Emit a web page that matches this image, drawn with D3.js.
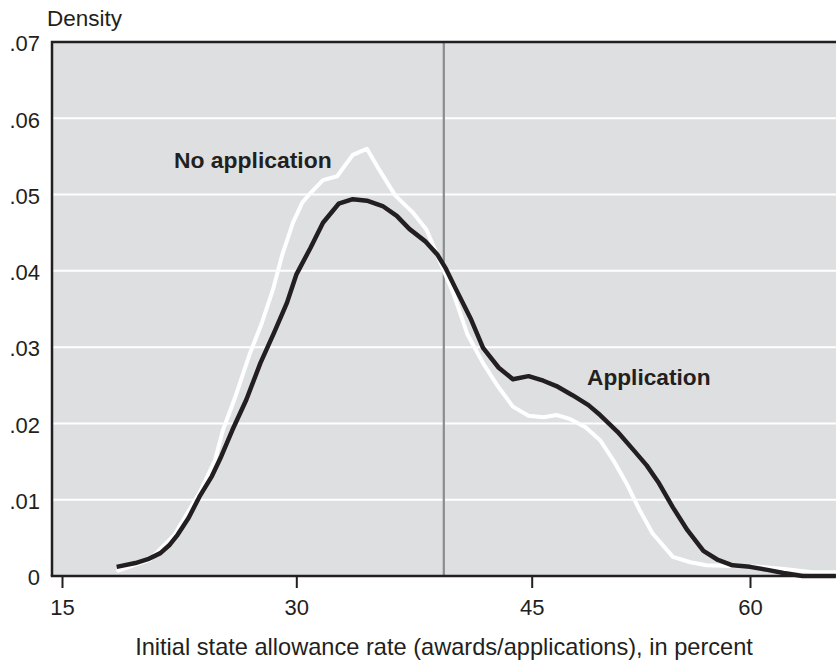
<!DOCTYPE html>
<html>
<head>
<meta charset="utf-8">
<script src="https://cdn.jsdelivr.net/npm/d3@7"></script>
<style>
  html, body { margin: 0; padding: 0; background: #ffffff; }
  svg { display: block; }
  text { font-family: "Liberation Sans", Arial, Helvetica, sans-serif; fill: #231f20; }
</style>
</head>
<body>
<svg id="chart" width="836" height="667"></svg>
<script>
// ---- data ----
const xTicks = [15, 30, 45, 60];
const xTickLabels = ["15", "30", "45", "60"];
const yTicks = [0, 0.01, 0.02, 0.03, 0.04, 0.05, 0.06, 0.07];
const yTickLabels = ["0", ".01", ".02", ".03", ".04", ".05", ".06", ".07"];
const cutoffX = 39.4;

const appX = [18.5, 19.7, 20.5, 21.3, 21.9, 22.4, 23.1, 23.8, 24.6, 25.2, 25.9, 26.8, 27.7, 28.6, 29.4, 30.0,
  30.9, 31.7, 32.7, 33.6, 34.5, 35.5, 36.4, 37.2, 38.2, 39.0, 39.5, 40.1, 41.1, 41.9, 42.9, 43.8, 44.8,
  45.8, 46.7, 47.8, 48.9, 49.7, 50.9, 52.0, 52.9, 53.7, 54.7, 55.7, 56.8, 57.8, 58.8, 60.0, 61.2, 62.3, 63.6, 65.9];
const appY = [.0012, .0017, .0022, .0030, .0041, .0054, .0076, .0104, .0131, .0157, .0191, .0231, .0279, .0320, .0358, .0395,
  .0430, .0463, .0488, .0494, .0492, .0485, .0472, .0455, .0439, .0421, .0404, .0379, .0338, .0299, .0273, .0258, .0262,
  .0256, .0249, .0237, .0224, .0211, .0189, .0165, .0145, .0123, .0090, .0060, .0033, .0021, .0014, .0012, .0008, .0004, 0, 0];

const noAppX = [18.6, 20.6, 22.2, 23.8, 24.8, 25.3, 26.1, 27.0, 27.8, 28.5, 29.1, 29.8, 30.4, 30.9, 31.7, 32.6,
  33.6, 34.5, 35.3, 36.3, 37.4, 38.3, 39.2, 40.0, 40.9, 41.9, 42.8, 43.8, 44.8, 45.8, 46.7, 47.6, 48.7,
  49.7, 50.6, 51.5, 52.4, 53.3, 54.7, 55.9, 57.0, 58.8, 60.7, 62.5, 64.3, 65.9];
const noAppY = [.0007, .0021, .0054, .0109, .0152, .0191, .0235, .0290, .0332, .0375, .0421, .0464, .0490, .0502, .0519, .0524,
  .0552, .0560, .0532, .0499, .0477, .0454, .0410, .0371, .0317, .0279, .0250, .0222, .0210, .0208, .0211, .0206, .0195,
  .0178, .0152, .0122, .0087, .0056, .0025, .0018, .0014, .0013, .0012, .0009, .0005, .0005];

const seriesLabels = ["No application", "Application"];
const yTitle = "Density";
const xTitle = "Initial state allowance rate (awards/applications), in percent";

// ---- layout ----
const W = 836, H = 667;
const plotLeft = 52, plotTop = 42, plotBottom = 576, plotRight = 836;

const svg = d3.select("#chart");

// x: piecewise linear to follow the reference tick placement
const x = d3.scaleLinear()
  .domain([15, 30, 45, 60])
  .range([62, 296.3, 531.7, 750]);
const y = d3.scaleLinear().domain([0, 0.07]).range([plotBottom, plotTop]);

// background
svg.append("rect")
  .attr("x", plotLeft).attr("y", plotTop)
  .attr("width", plotRight - plotLeft).attr("height", plotBottom - plotTop)
  .attr("fill", "#dedfe1");

// gridlines
svg.append("g").selectAll("line")
  .data(yTicks.filter(d => d > 0 && d < 0.07))
  .join("line")
  .attr("x1", plotLeft).attr("x2", plotRight)
  .attr("y1", d => y(d)).attr("y2", d => y(d))
  .attr("stroke", "#ffffff").attr("stroke-width", 2);

// cutoff line
svg.append("line")
  .attr("x1", x(cutoffX)).attr("x2", x(cutoffX))
  .attr("y1", plotTop).attr("y2", plotBottom)
  .attr("stroke", "#8c8c8e").attr("stroke-width", 2.2);

// curves
const line = d3.line().x(d => x(d[0])).y(d => y(d[1])).curve(d3.curveLinear);
const noApp = noAppX.map((v, i) => [v, noAppY[i]]);
const app = appX.map((v, i) => [v, appY[i]]);

svg.append("path").datum(noApp)
  .attr("d", line).attr("fill", "none")
  .attr("stroke", "#ffffff").attr("stroke-width", 4)
  .attr("stroke-linejoin", "round").attr("stroke-linecap", "round");

svg.append("path").datum(app)
  .attr("d", line).attr("fill", "none")
  .attr("stroke", "#231f20").attr("stroke-width", 4.5)
  .attr("stroke-linejoin", "round").attr("stroke-linecap", "butt");

// frame: left, top
svg.append("path")
  .attr("d", `M${plotRight},${plotTop}H${plotLeft}V${plotBottom}`)
  .attr("fill", "none").attr("stroke", "#231f20").attr("stroke-width", 2.5);

// x axis
const xAxis = d3.axisBottom(x)
  .tickValues(xTicks)
  .tickFormat((d, i) => xTickLabels[i])
  .tickSize(12).tickSizeOuter(0);
const gx = svg.append("g").attr("transform", `translate(0,${plotBottom})`).call(xAxis);
gx.select(".domain").remove();
gx.selectAll(".tick line").attr("stroke", "#231f20").attr("stroke-width", 2);
gx.selectAll(".tick text")
  .attr("y", 39).attr("dy", 0)
  .attr("font-size", 22).attr("font-family", "Liberation Sans, Arial, sans-serif")
  .attr("fill", "#231f20");
svg.append("line")
  .attr("x1", plotLeft - 1.25).attr("x2", plotRight)
  .attr("y1", plotBottom).attr("y2", plotBottom)
  .attr("stroke", "#231f20").attr("stroke-width", 2.5);

// y axis labels (no tick marks)
const yAxis = d3.axisLeft(y)
  .tickValues(yTicks)
  .tickFormat((d, i) => yTickLabels[i])
  .tickSize(0).tickPadding(0);
const gy = svg.append("g").attr("transform", `translate(40,0)`).call(yAxis);
gy.select(".domain").remove();
gy.selectAll(".tick text")
  .attr("x", 0).attr("dy", "0.4em")
  .attr("font-size", 22).attr("font-family", "Liberation Sans, Arial, sans-serif")
  .attr("fill", "#231f20");

// titles
svg.append("text").attr("x", 47).attr("y", 26)
  .attr("font-size", 22.5).text(yTitle);
svg.append("text").attr("x", 444).attr("y", 655)
  .attr("text-anchor", "middle").attr("font-size", 23.6).text(xTitle);

// series labels
svg.append("text").attr("x", 174).attr("y", 168)
  .attr("font-size", 22.9).attr("font-weight", "bold").text(seriesLabels[0]);
svg.append("text").attr("x", 587).attr("y", 385)
  .attr("font-size", 22.7).attr("font-weight", "bold").text(seriesLabels[1]);
</script>
</body>
</html>
